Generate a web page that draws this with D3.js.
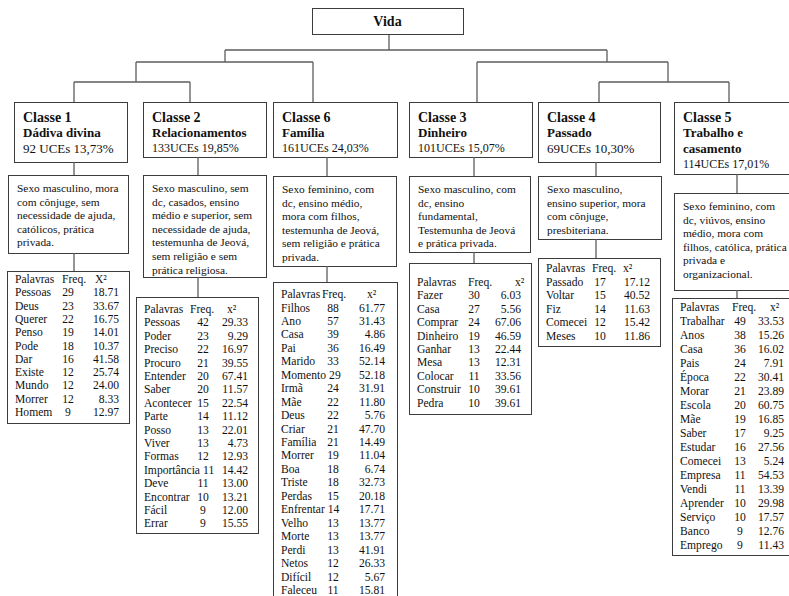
<!DOCTYPE html>
<html>
<head>
<meta charset="utf-8">
<title>Vida - classes</title>
<script src="https://d3js.org/d3.v7.min.js"></script>
<style>
  body { margin: 0; background: #fff; }
  svg { display: block; }
  svg text { font-family: "Liberation Serif", "Times New Roman", Times, "DejaVu Serif", serif; fill: #111; }
  .box { fill: #fff; stroke: #3c3c3c; stroke-width: 1; }
  .link { fill: none; stroke: #5c5c5c; stroke-width: 1.3; }
</style>
</head>
<body>
<svg id="chart" width="789" height="596"></svg>
<script>
// classes, left to right as they sit under the dendrogram
const classes = ["Classe 1", "Classe 2", "Classe 6", "Classe 3", "Classe 4", "Classe 5"];
const classNames = [["Dádiva divina"], ["Relacionamentos"], ["Família"], ["Dinheiro"], ["Passado"], ["Trabalho e", "casamento"]];
const uceLabels = ["92 UCEs 13,73%", "133UCEs 19,85%", "161UCEs 24,03%", "101UCEs 15,07%", "69UCEs 10,30%", "114UCEs 17,01%"];

const descriptions = [
  ["Sexo masculino, mora", "com cônjuge, sem", "necessidade de ajuda,", "católicos, prática", "privada."],
  ["Sexo masculino, sem", "dc, casados, ensino", "médio e superior, sem", "necessidade de ajuda,", "testemunha de Jeová,", "sem religião e sem", "prática religiosa."],
  ["Sexo feminino, com", "dc, ensino médio,", "mora com filhos,", "testemunha de Jeová,", "sem religião e prática", "privada."],
  ["Sexo masculino, com", "dc, ensino", "fundamental,", "Testemunha de Jeová", "e prática privada."],
  ["Sexo masculino,", "ensino superior, mora", "com cônjuge,", "presbiteriana."],
  ["Sexo feminino, com", "dc, viúvos, ensino", "médio, mora com", "filhos, católica, prática", "privada e", "organizacional."]
];

// palavra, frequência, qui-quadrado
const words1 = [["Pessoas", 29, 18.71], ["Deus", 23, 33.67], ["Querer", 22, 16.75], ["Penso", 19, 14.01], ["Pode", 18, 10.37],
  ["Dar", 16, 41.58], ["Existe", 12, 25.74], ["Mundo", 12, 24.00], ["Morrer", 12, 8.33], ["Homem", 9, 12.97]];
const words2 = [["Pessoas", 42, 29.33], ["Poder", 23, 9.29], ["Preciso", 22, 16.97], ["Procuro", 21, 39.55], ["Entender", 20, 67.41],
  ["Saber", 20, 11.57], ["Acontecer", 15, 22.54], ["Parte", 14, 11.12], ["Posso", 13, 22.01], ["Viver", 13, 4.73],
  ["Formas", 12, 12.93], ["Importância", 11, 14.42], ["Deve", 11, 13.00], ["Encontrar", 10, 13.21], ["Fácil", 9, 12.00], ["Errar", 9, 15.55]];
const words6 = [["Filhos", 88, 61.77], ["Ano", 57, 31.43], ["Casa", 39, 4.86], ["Pai", 36, 16.49], ["Marido", 33, 52.14],
  ["Momento", 29, 52.18], ["Irmã", 24, 31.91], ["Mãe", 22, 11.80], ["Deus", 22, 5.76], ["Criar", 21, 47.70],
  ["Família", 21, 14.49], ["Morrer", 19, 11.04], ["Boa", 18, 6.74], ["Triste", 18, 32.73], ["Perdas", 15, 20.18],
  ["Enfrentar", 14, 17.71], ["Velho", 13, 13.77], ["Morte", 13, 13.77], ["Perdi", 13, 41.91], ["Netos", 12, 26.33],
  ["Difícil", 12, 5.67], ["Faleceu", 11, 15.81]];
const words3 = [["Fazer", 30, 6.03], ["Casa", 27, 5.56], ["Comprar", 24, 67.06], ["Dinheiro", 19, 46.59], ["Ganhar", 13, 22.44],
  ["Mesa", 13, 12.31], ["Colocar", 11, 33.56], ["Construir", 10, 39.61], ["Pedra", 10, 39.61]];
const words4 = [["Passado", 17, 17.12], ["Voltar", 15, 40.52], ["Fiz", 14, 11.63], ["Comecei", 12, 15.42], ["Meses", 10, 11.86]];
const words5 = [["Trabalhar", 49, 33.53], ["Anos", 38, 15.26], ["Casa", 36, 16.02], ["Pais", 24, 7.91], ["Época", 22, 30.41],
  ["Morar", 21, 23.89], ["Escola", 20, 60.75], ["Mãe", 19, 16.85], ["Saber", 17, 9.25], ["Estudar", 16, 27.56],
  ["Comecei", 13, 5.24], ["Empresa", 11, 54.53], ["Vendi", 11, 13.39], ["Aprender", 10, 29.98], ["Serviço", 10, 17.57],
  ["Banco", 9, 12.76], ["Emprego", 9, 11.43]];
const wordTables = [words1, words2, words6, words3, words4, words5];
const chiHeaders = ["X²", "x²", "x²", "x²", "x²", "x²"];

// dendrogram
const tree = { name: "Vida", children: [
  { name: "A", children: [
    { name: "B", children: [{ name: "Classe 1" }, { name: "Classe 2" }] },
    { name: "Classe 6" }] },
  { name: "C", children: [
    { name: "Classe 3" },
    { name: "D", children: [{ name: "Classe 4" }, { name: "Classe 5" }] }] }
] };

// ---- layout (pixels) ----
const stemX = { Vida: 389, A: 225, B: 136, C: 607, D: 668,
  "Classe 1": 74, "Classe 2": 190, "Classe 6": 313, "Classe 3": 477, "Classe 4": 599, "Classe 5": 729 };
const junctionY = d3.scaleOrdinal().domain([0, 1, 2]).range([50, 62, 82]);
const rootBox = { x0: 312, x1: 463, y0: 8, y1: 34 };
const boxTop = 102;

const cols = [
  { bx: [14, 127], by: 162, dx: [8, 128], dy: [175, 253], tx: [7, 129], ty: [271, 423], th: 279, rh: 13.3, link: 74, fh: 55, ch: 88, f: 61, big: true },
  { bx: [143, 266], by: 157, dx: [143, 266], dy: [175, 277], tx: [136, 258], ty: [297, 533], th: 309, rh: 13.4, link: 198, fh: 54, ch: 91, f: 67 },
  { bx: [273, 397], by: 157, dx: [273, 396], dy: [176, 266], tx: [273, 397], ty: [282, 610], th: 294, rh: 13.45, link: 327, fh: 49, ch: 94, f: 60 },
  { bx: [409, 532], by: 157, dx: [409, 530], dy: [176, 252], tx: [409, 531], ty: [263, 414], th: 282, rh: 13.4, link: 474, fh: 59, ch: 106, f: 65 },
  { bx: [538, 660], by: 162, dx: [538, 661], dy: [176, 239], tx: [538, 660], ty: [258, 346], th: 268, rh: 13.6, link: 596, fh: 54, ch: 85, f: 62, big: true },
  { bx: [674, 792], by: 174, dx: [674, 792], dy: [193, 290], tx: [672, 792], ty: [298, 555], th: 307, rh: 14.0, link: 737, fh: 60, ch: 98, f: 68 }
];

const svg = d3.select("#chart");
svg.append("rect").attr("width", 789).attr("height", 596).attr("fill", "#fff");

const fmt = d3.format(".2f");

function box(g, x0, x1, y0, y1) {
  g.append("rect").attr("class", "box")
    .attr("x", x0 + 0.5).attr("y", y0 + 0.5)
    .attr("width", x1 - x0).attr("height", y1 - y0);
}
function vline(x, y0, y1) {
  svg.append("line").attr("class", "link")
    .attr("x1", x).attr("x2", x).attr("y1", y0).attr("y2", y1);
}

// tree lines
const root = d3.hierarchy(tree);
vline(stemX.Vida, rootBox.y1, junctionY(0));
root.descendants().forEach(n => {
  if (n.children) {
    const xs = n.children.map(c => stemX[c.data.name]);
    svg.append("line").attr("class", "link")
      .attr("x1", d3.min(xs)).attr("x2", d3.max(xs))
      .attr("y1", junctionY(n.depth)).attr("y2", junctionY(n.depth));
  }
  if (n.parent) {
    vline(stemX[n.data.name], junctionY(n.parent.depth), n.children ? junctionY(n.depth) : boxTop);
  }
});

// root box
box(svg, rootBox.x0, rootBox.x1, rootBox.y0, rootBox.y1);
svg.append("text")
  .attr("x", (rootBox.x0 + rootBox.x1) / 2).attr("y", (rootBox.y0 + rootBox.y1) / 2)
  .attr("dy", "0.35em").attr("text-anchor", "middle")
  .style("font-weight", "bold").style("font-size", "14px")
  .text(root.data.name);

// columns
classes.forEach((cls, i) => {
  const c = cols[i];
  const g = svg.append("g");

  // connectors box -> description -> table
  vline(c.link, c.by, c.dy[0]);
  vline(c.link, c.dy[1], c.ty[0]);

  // class box
  box(g, c.bx[0], c.bx[1], boxTop, c.by);
  const lines = [{ t: cls, size: 14, bold: true }]
    .concat(classNames[i].map(t => ({ t, size: 13, bold: true })))
    .concat([{ t: uceLabels[i], size: c.big ? 13 : 12, bold: false }]);
  lines.forEach((l, k) => {
    g.append("text")
      .attr("x", c.bx[0] + 9).attr("y", 117 + k * 15.5).attr("dy", "0.35em")
      .style("font-size", l.size + "px").style("font-weight", l.bold ? "bold" : "normal")
      .text(l.t);
  });

  // description box
  box(g, c.dx[0], c.dx[1], c.dy[0], c.dy[1]);
  descriptions[i].forEach((t, k) => {
    g.append("text")
      .attr("x", c.dx[0] + 9).attr("y", c.dy[0] + 13 + k * 13.6).attr("dy", "0.35em")
      .style("font-size", "11.4px").text(t);
  });

  // words table
  box(g, c.tx[0], c.tx[1], c.ty[0], c.ty[1]);
  const rows = wordTables[i];
  const y = d3.scaleLinear().domain([0, 1]).range([c.th, c.th + c.rh]);
  const x0 = c.tx[0];
  const head = g.append("g").style("font-size", "11.6px");
  head.append("text").attr("x", x0 + 8).attr("y", y(0)).attr("dy", "0.35em").text("Palavras");
  head.append("text").attr("x", x0 + c.fh).attr("y", y(0)).attr("dy", "0.35em").text("Freq.");
  head.append("text").attr("x", x0 + c.ch).attr("y", y(0)).attr("dy", "0.35em").text(chiHeaders[i]);

  const row = g.selectAll(".row").data(rows).join("g")
    .attr("class", "row")
    .attr("transform", (d, k) => `translate(0,${y(k + 1)})`)
    .style("font-size", "11.6px");
  row.append("text").attr("class", "w").attr("x", x0 + 8).attr("dy", "0.35em").text(d => d[0]);
  row.append("text").attr("class", "fq").attr("dy", "0.35em").text(d => d[1]);
  row.append("text").attr("x", x0 + 112).attr("dy", "0.35em").attr("text-anchor", "end").text(d => fmt(d[2]));

  // frequency sits in its column unless the word runs into it, then it follows the word (as in the tab-set original)
  row.each(function () {
    const r = d3.select(this);
    const wEnd = x0 + 8 + r.select(".w").node().getComputedTextLength();
    const fq = r.select(".fq");
    const fw = fq.node().getComputedTextLength();
    fq.attr("x", Math.max(x0 + c.f - fw / 2, wEnd + 3));
  });
});
</script>
</body>
</html>
